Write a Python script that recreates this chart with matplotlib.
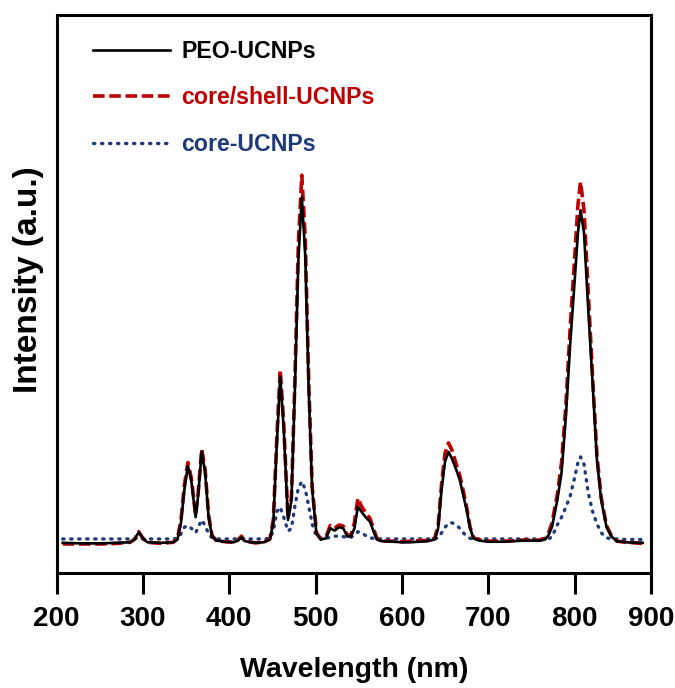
import matplotlib
matplotlib.use("Agg")
import matplotlib.pyplot as plt

plt.rcParams['font.family'] = ['Liberation Sans', 'DejaVu Sans']

wavelength = [207, 230, 250, 270, 285, 290, 295, 300, 305, 320,
              335, 340, 344, 348, 352, 356, 361, 364, 368, 372,
              376, 380, 385, 395, 405, 410, 414, 418, 430, 440,
              447, 451, 455, 459, 463, 468, 472, 476, 480, 484,
              488, 492, 496, 501, 506, 512, 517, 522, 527, 532,
              537, 541, 545, 549, 553, 558, 563, 567, 571, 576,
              590, 600, 610, 620, 630, 638, 642, 646, 650, 654,
              658, 663, 667, 671, 675, 679, 683, 690, 700, 720,
              740, 760, 766, 770, 774, 780, 785, 790, 795, 800,
              804, 807, 811, 816, 821, 826, 831, 837, 843, 849,
              860, 870, 879]

peo = [54, 53, 53, 54, 55, 60, 73, 62, 55, 54,
       55, 60, 90, 150, 192, 165, 100, 140, 218, 180,
       100, 66, 58, 56, 55, 58, 64, 57, 54, 55,
       60, 90, 230, 352, 260, 95, 130, 330, 560, 674,
       570, 330, 150, 70, 60, 62, 80, 76, 82, 80,
       65, 66, 80, 119, 110, 100, 92, 75, 60, 57,
       56, 55, 55, 56, 57, 60, 80, 150, 200, 217,
       205, 185, 167, 140, 113, 80, 62, 58, 56, 56,
       58, 58, 60, 68, 83, 130, 180, 280, 410, 520,
       610, 650, 610, 470, 340, 202, 130, 83, 65, 57,
       55, 54, 54]

core_shell = [52, 52, 52, 53, 55, 60, 74, 62, 55, 53,
              55, 62, 95, 158, 198, 170, 103, 145, 222, 185,
              104, 67, 58, 56, 55, 59, 66, 57, 54, 55,
              61, 95, 240, 364, 270, 98, 135, 345, 590, 713,
              600, 345, 155, 72, 61, 65, 85, 80, 86, 84,
              67, 68, 90, 134, 120, 108, 98, 80, 62, 57,
              57, 56, 57, 58, 58, 62, 85, 160, 215, 233,
              220, 195, 175, 148, 118, 82, 63, 59, 57, 57,
              59, 59, 62, 72, 90, 140, 198, 300, 440, 560,
              660, 701, 650, 500, 350, 210, 135, 85, 66, 57,
              55, 54, 53]

core = [61, 61, 61, 61, 61, 61, 63, 61, 61, 61,
        61, 62, 70, 82, 85, 80, 72, 82, 95, 85,
        70, 63, 61, 61, 61, 61, 62, 61, 61, 61,
        62, 75, 110, 118, 100, 75, 80, 120, 152, 164,
        150, 120, 88, 65, 62, 62, 64, 66, 66, 65,
        64, 64, 68, 74, 72, 67, 63, 62, 61, 61,
        61, 61, 61, 61, 61, 61, 63, 72, 82, 89,
        90, 86, 80, 72, 66, 62, 61, 61, 61, 61,
        61, 61, 61, 61, 65, 86, 100, 118, 138, 170,
        198, 208, 195, 143, 110, 88, 72, 63, 61, 61,
        60, 60, 60]

labels = ['PEO-UCNPs', 'core/shell-UCNPs', 'core-UCNPs']
colors = ['#000000', '#c00000', '#1f3a7a']
xtick_labels = ['200', '300', '400', '500', '600', '700', '800', '900']

x_end = 888.6
xtick_pos = [200, 300, 400, 500, 600, 700, 800, x_end]

fig = plt.figure(figsize=(6.75, 6.88), dpi=100)
ax = fig.add_axes([0.084, 0.1672, 0.8804, 0.811])

ax.plot(wavelength, core, color=colors[2], lw=2.4, linestyle=(0, (0.4, 2.0)),
        dash_capstyle='round', label=labels[2], zorder=2)
ax.plot(wavelength, core_shell, color=colors[1], lw=2.6, linestyle=(0, (3.2, 1.3)),
        label=labels[1], zorder=3)
ax.plot(wavelength, peo, color=colors[0], lw=1.9, label=labels[0], zorder=4)

ax.set_xlim(200, x_end)
ax.set_ylim(0, 1000)
ax.set_xticks(xtick_pos)
ax.set_xticklabels(xtick_labels, fontsize=20, fontweight='bold')
ax.set_yticks([])
for s in ax.spines.values():
    s.set_linewidth(2.2)
ax.tick_params(axis='x', direction='out', length=15, width=2.2, pad=9)
ax.set_xlabel('Wavelength (nm)', fontsize=20.5, fontweight='bold', labelpad=18)
ax.set_ylabel('Intensity (a.u.)', fontsize=24, fontweight='bold')
ax.yaxis.set_label_coords(-0.022, 0.525)

handles, labs = ax.get_legend_handles_labels()
order = [2, 1, 0]
leg = ax.legend([handles[i] for i in order], [labs[i] for i in order],
                loc='upper left', bbox_to_anchor=(0.0266, 0.993), frameon=False,
                handlelength=3.3, handletextpad=0.5, labelspacing=1.02,
                prop={'size': 16.7, 'weight': 'bold'})
for txt, c in zip(leg.get_texts(), colors):
    txt.set_color(c)

fig.savefig('out.png', dpi=100)
